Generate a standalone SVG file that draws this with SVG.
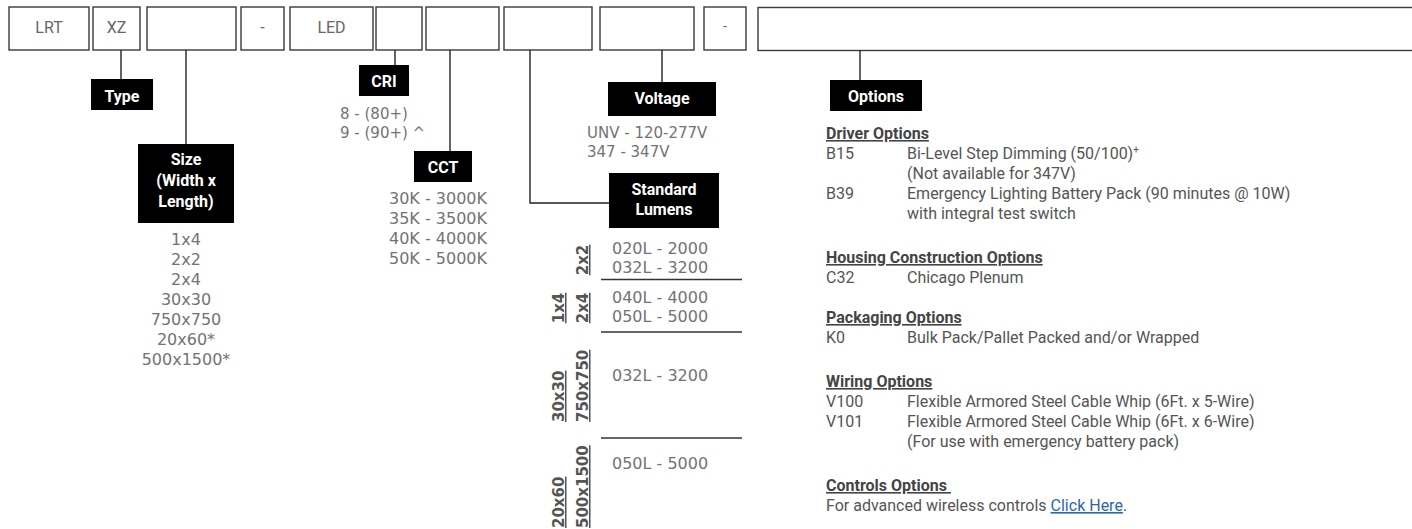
<svg xmlns="http://www.w3.org/2000/svg" width="1412" height="529" viewBox="0 0 1412 529">
<style>
.box{fill:#fff;stroke:#3a3a3a;stroke-width:1.4}
.bl{font-family:Roboto,"Liberation Sans",sans-serif;font-size:16px;fill:#666;text-anchor:middle}
.tag{fill:#000}
.tt{font-family:Roboto,"Liberation Sans",sans-serif;font-size:16px;font-weight:bold;fill:#fff;text-anchor:middle}
.ls{font-family:"DejaVu Sans",sans-serif;font-size:16px;fill:#737373}
.rot{font-family:"DejaVu Sans",sans-serif;font-size:15px;font-weight:bold;fill:#555;text-decoration:underline}
.op{font-family:Roboto,"Liberation Sans",sans-serif;font-size:16px;fill:#555}
.oh{font-family:Roboto,"Liberation Sans",sans-serif;font-size:16px;font-weight:bold;fill:#444;text-decoration:underline}
.ln{stroke:#222;stroke-width:1.4;fill:none}
.sep{stroke:#333;stroke-width:1.5}
</style>
<g id="boxes">
<g id="b-lrt"><rect class="box" x="9" y="7" width="80" height="43"/><text class="bl" x="49" y="33">LRT</text></g>
<g id="b-xz"><rect class="box" x="93" y="7" width="47" height="43"/><text class="bl" x="116.5" y="33">XZ</text></g>
<g id="b-size"><rect class="box" x="147" y="7" width="89" height="43"/></g>
<g id="b-dash1"><rect class="box" x="241" y="7" width="43" height="43"/><text class="bl" x="262.5" y="33">-</text></g>
<g id="b-led"><rect class="box" x="290" y="7" width="83" height="43"/><text class="bl" x="331.5" y="33">LED</text></g>
<g id="b-cri"><rect class="box" x="376" y="7" width="46" height="43"/></g>
<g id="b-cct"><rect class="box" x="426" y="7" width="73" height="43"/></g>
<g id="b-lum"><rect class="box" x="504" y="7" width="88" height="43"/></g>
<g id="b-volt"><rect class="box" x="600" y="7" width="94" height="43"/></g>
<g id="b-dash2"><rect class="box" x="704" y="7" width="42" height="43"/><text class="bl" x="725" y="31" style="font-size:14px">-</text></g>
<g id="b-opt"><rect class="box" x="758" y="7.5" width="700" height="43"/></g>
</g>
<g id="connectors">
<path class="ln" d="M121 50V79"/>
<path class="ln" d="M186 50V144"/>
<path class="ln" d="M395 50V65"/>
<path class="ln" d="M450 50V151"/>
<path class="ln" d="M530 50V203H609"/>
<path class="ln" d="M662 50V82"/>
<path class="ln" d="M860 50V80"/>
</g>
<g id="type">
<rect class="tag" x="91" y="79" width="62" height="31"/>
<text class="tt" x="122" y="101.5">Type</text>
</g>
<g id="size">
<rect class="tag" x="138" y="144" width="96" height="79"/>
<text class="tt" x="186" y="165">Size</text>
<text class="tt" x="186" y="186">(Width x</text>
<text class="tt" x="186" y="207">Length)</text>
<g class="ls" text-anchor="middle">
<text x="186" y="245">1x4</text>
<text x="186" y="265">2x2</text>
<text x="186" y="285">2x4</text>
<text x="186" y="305">30x30</text>
<text x="186" y="325">750x750</text>
<text x="186" y="345">20x60*</text>
<text x="186" y="365">500x1500*</text>
</g>
</g>
<g id="cri">
<rect class="tag" x="359" y="65" width="50" height="31"/>
<text class="tt" x="384" y="87">CRI</text>
<text class="ls" x="340" y="119" style="font-size:15px">8 - (80+)</text>
<text class="ls" x="340" y="138" style="font-size:15px">9 - (90+) ^</text>
</g>
<g id="cct">
<rect class="tag" x="414" y="151" width="58" height="31"/>
<text class="tt" x="443" y="172.5">CCT</text>
<text class="ls" x="389" y="204">30K - 3000K</text>
<text class="ls" x="389" y="224">35K - 3500K</text>
<text class="ls" x="389" y="244">40K - 4000K</text>
<text class="ls" x="389" y="264">50K - 5000K</text>
</g>
<g id="voltage">
<rect class="tag" x="608" y="82" width="108" height="34"/>
<text class="tt" x="662" y="104">Voltage</text>
<text class="ls" x="587" y="138" style="font-size:15px">UNV - 120-277V</text>
<text class="ls" x="587" y="157" style="font-size:15px">347 - 347V</text>
</g>
<g id="lumens">
<rect class="tag" x="609" y="173" width="110" height="55"/>
<text class="tt" x="664" y="195">Standard</text>
<text class="tt" x="664" y="215">Lumens</text>
<text class="ls" x="612" y="254">020L - 2000</text>
<text class="ls" x="612" y="273">032L - 3200</text>
<line class="sep" x1="601" y1="279.5" x2="742" y2="279.5"/>
<text class="ls" x="612" y="303">040L - 4000</text>
<text class="ls" x="612" y="322">050L - 5000</text>
<line class="sep" x1="601" y1="332" x2="742" y2="332"/>
<text class="ls" x="612" y="381">032L - 3200</text>
<line class="sep" x1="601" y1="438" x2="742" y2="438"/>
<text class="ls" x="612" y="469">050L - 5000</text>
<text class="rot" transform="translate(588,260) rotate(-90)" text-anchor="middle">2x2</text>
<text class="rot" transform="translate(564,308) rotate(-90)" text-anchor="middle">1x4</text>
<text class="rot" transform="translate(588,308) rotate(-90)" text-anchor="middle">2x4</text>
<text class="rot" transform="translate(564,422) rotate(-90)">30x30</text>
<text class="rot" transform="translate(588,422) rotate(-90)">750x750</text>
<text class="rot" transform="translate(564,528) rotate(-90)">20x60</text>
<text class="rot" transform="translate(588,528) rotate(-90)">500x1500</text>
</g>
<g id="options">
<rect class="tag" x="830" y="80" width="92" height="31"/>
<text class="tt" x="876" y="101.5">Options</text>
<text class="oh" x="826" y="139">Driver Options</text>
<text class="op" x="826" y="159">B15</text>
<text class="op" x="907" y="159">Bi-Level Step Dimming (50/100)<tspan font-size="10" dy="-6">+</tspan></text>
<text class="op" x="907" y="179">(Not available for 347V)</text>
<text class="op" x="826" y="199">B39</text>
<text class="op" x="907" y="199">Emergency Lighting Battery Pack (90 minutes @ 10W)</text>
<text class="op" x="907" y="219">with integral test switch</text>
<text class="oh" x="826" y="263">Housing Construction Options</text>
<text class="op" x="826" y="283">C32</text>
<text class="op" x="907" y="283">Chicago Plenum</text>
<text class="oh" x="826" y="323">Packaging Options</text>
<text class="op" x="826" y="343">K0</text>
<text class="op" x="907" y="343">Bulk Pack/Pallet Packed and/or Wrapped</text>
<text class="oh" x="826" y="387">Wiring Options</text>
<text class="op" x="826" y="407">V100</text>
<text class="op" x="907" y="407">Flexible Armored Steel Cable Whip (6Ft. x 5-Wire)</text>
<text class="op" x="826" y="427">V101</text>
<text class="op" x="907" y="427">Flexible Armored Steel Cable Whip (6Ft. x 6-Wire)</text>
<text class="op" x="907" y="447">(For use with emergency battery pack)</text>
<text class="oh" x="826" y="491">Controls Options&#160;</text>
<text class="op" x="826" y="511">For advanced wireless controls <tspan fill="#2a66b0" text-decoration="underline">Click Here</tspan>.</text>
</g>
</svg>
